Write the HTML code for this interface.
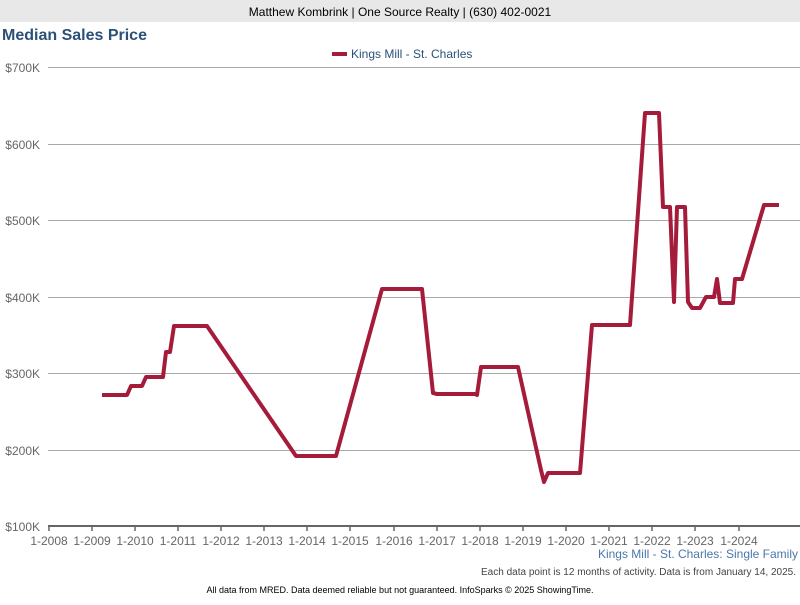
<!DOCTYPE html>
<html><head><style>
body{margin:0;width:800px;height:600px;background:#fff;font-family:"Liberation Sans",sans-serif;overflow:hidden}
</style></head><body>
<svg width="800" height="600" xmlns="http://www.w3.org/2000/svg" font-family="Liberation Sans, sans-serif">
<rect x="0" y="0" width="800" height="22" fill="#e8e8e8"/>
<text x="400" y="16" text-anchor="middle" font-size="12" fill="#000">Matthew Kombrink | One Source Realty | (630) 402-0021</text>
<text x="2" y="40" font-size="16" font-weight="bold" fill="#2b5079">Median Sales Price</text>
<line x1="332" y1="54" x2="347" y2="54" stroke="#a51c3a" stroke-width="4"/>
<text x="351" y="58" font-size="12" fill="#2b5079">Kings Mill - St. Charles</text>
<g stroke="#aaa" stroke-width="1">
<line x1="48" y1="67.5" x2="800" y2="67.5"/><line x1="48" y1="144.5" x2="800" y2="144.5"/>
<line x1="48" y1="220.5" x2="800" y2="220.5"/><line x1="48" y1="297.5" x2="800" y2="297.5"/>
<line x1="48" y1="373.5" x2="800" y2="373.5"/><line x1="48" y1="450.5" x2="800" y2="450.5"/>
</g>
<line x1="48" y1="526" x2="800" y2="526" stroke="#666" stroke-width="2"/>
<g stroke="#666" stroke-width="1.5">
<line x1="49" y1="526" x2="49" y2="531"/><line x1="92" y1="526" x2="92" y2="531"/><line x1="135" y1="526" x2="135" y2="531"/><line x1="178" y1="526" x2="178" y2="531"/><line x1="221" y1="526" x2="221" y2="531"/><line x1="264" y1="526" x2="264" y2="531"/><line x1="307" y1="526" x2="307" y2="531"/><line x1="350" y1="526" x2="350" y2="531"/><line x1="394" y1="526" x2="394" y2="531"/><line x1="437" y1="526" x2="437" y2="531"/><line x1="480" y1="526" x2="480" y2="531"/><line x1="523" y1="526" x2="523" y2="531"/><line x1="566" y1="526" x2="566" y2="531"/><line x1="609" y1="526" x2="609" y2="531"/><line x1="652" y1="526" x2="652" y2="531"/><line x1="695" y1="526" x2="695" y2="531"/><line x1="739" y1="526" x2="739" y2="531"/>
</g>
<g font-size="12" fill="#666" text-anchor="end">
<text x="40" y="72">$700K</text><text x="40" y="149">$600K</text><text x="40" y="225">$500K</text><text x="40" y="302">$400K</text><text x="40" y="378">$300K</text><text x="40" y="455">$200K</text><text x="40" y="531">$100K</text>
</g>
<g font-size="12" fill="#666" text-anchor="middle">
<text x="49" y="545">1-2008</text><text x="92" y="545">1-2009</text><text x="135" y="545">1-2010</text><text x="178" y="545">1-2011</text><text x="221" y="545">1-2012</text><text x="264" y="545">1-2013</text><text x="307" y="545">1-2014</text><text x="350" y="545">1-2015</text><text x="394" y="545">1-2016</text><text x="437" y="545">1-2017</text><text x="480" y="545">1-2018</text><text x="523" y="545">1-2019</text><text x="566" y="545">1-2020</text><text x="609" y="545">1-2021</text><text x="652" y="545">1-2022</text><text x="695" y="545">1-2023</text><text x="739" y="545">1-2024</text>
</g>
<polyline fill="none" stroke="#a51c3a" stroke-width="4" stroke-linejoin="round" points="102,395 127,395 131,386 142,386 146,377 163,377 166,352 170,352 174,326 207,326 296,456 336,456 382,289 422,289 433,393 437,394 475,394 477,395 481,367 518,367 541,470 544,482 548,473 580,473 592,325 630,325 645,113 659,113 663,207 670,207 674,302 677,207 685,207 688,302 692,308 700,308 706,297 714,297 717,279 720,303 733,303 735,279 742,279 764,205 779,205"/>
<text x="798" y="558" text-anchor="end" font-size="12" fill="#4a78a8">Kings Mill - St. Charles: Single Family</text>
<text x="796" y="575" text-anchor="end" font-size="10" fill="#444">Each data point is 12 months of activity. Data is from January 14, 2025.</text>
<text x="400" y="593" text-anchor="middle" font-size="9" fill="#000">All data from MRED. Data deemed reliable but not guaranteed. InfoSparks © 2025 ShowingTime.</text>
</svg>
</body></html>
